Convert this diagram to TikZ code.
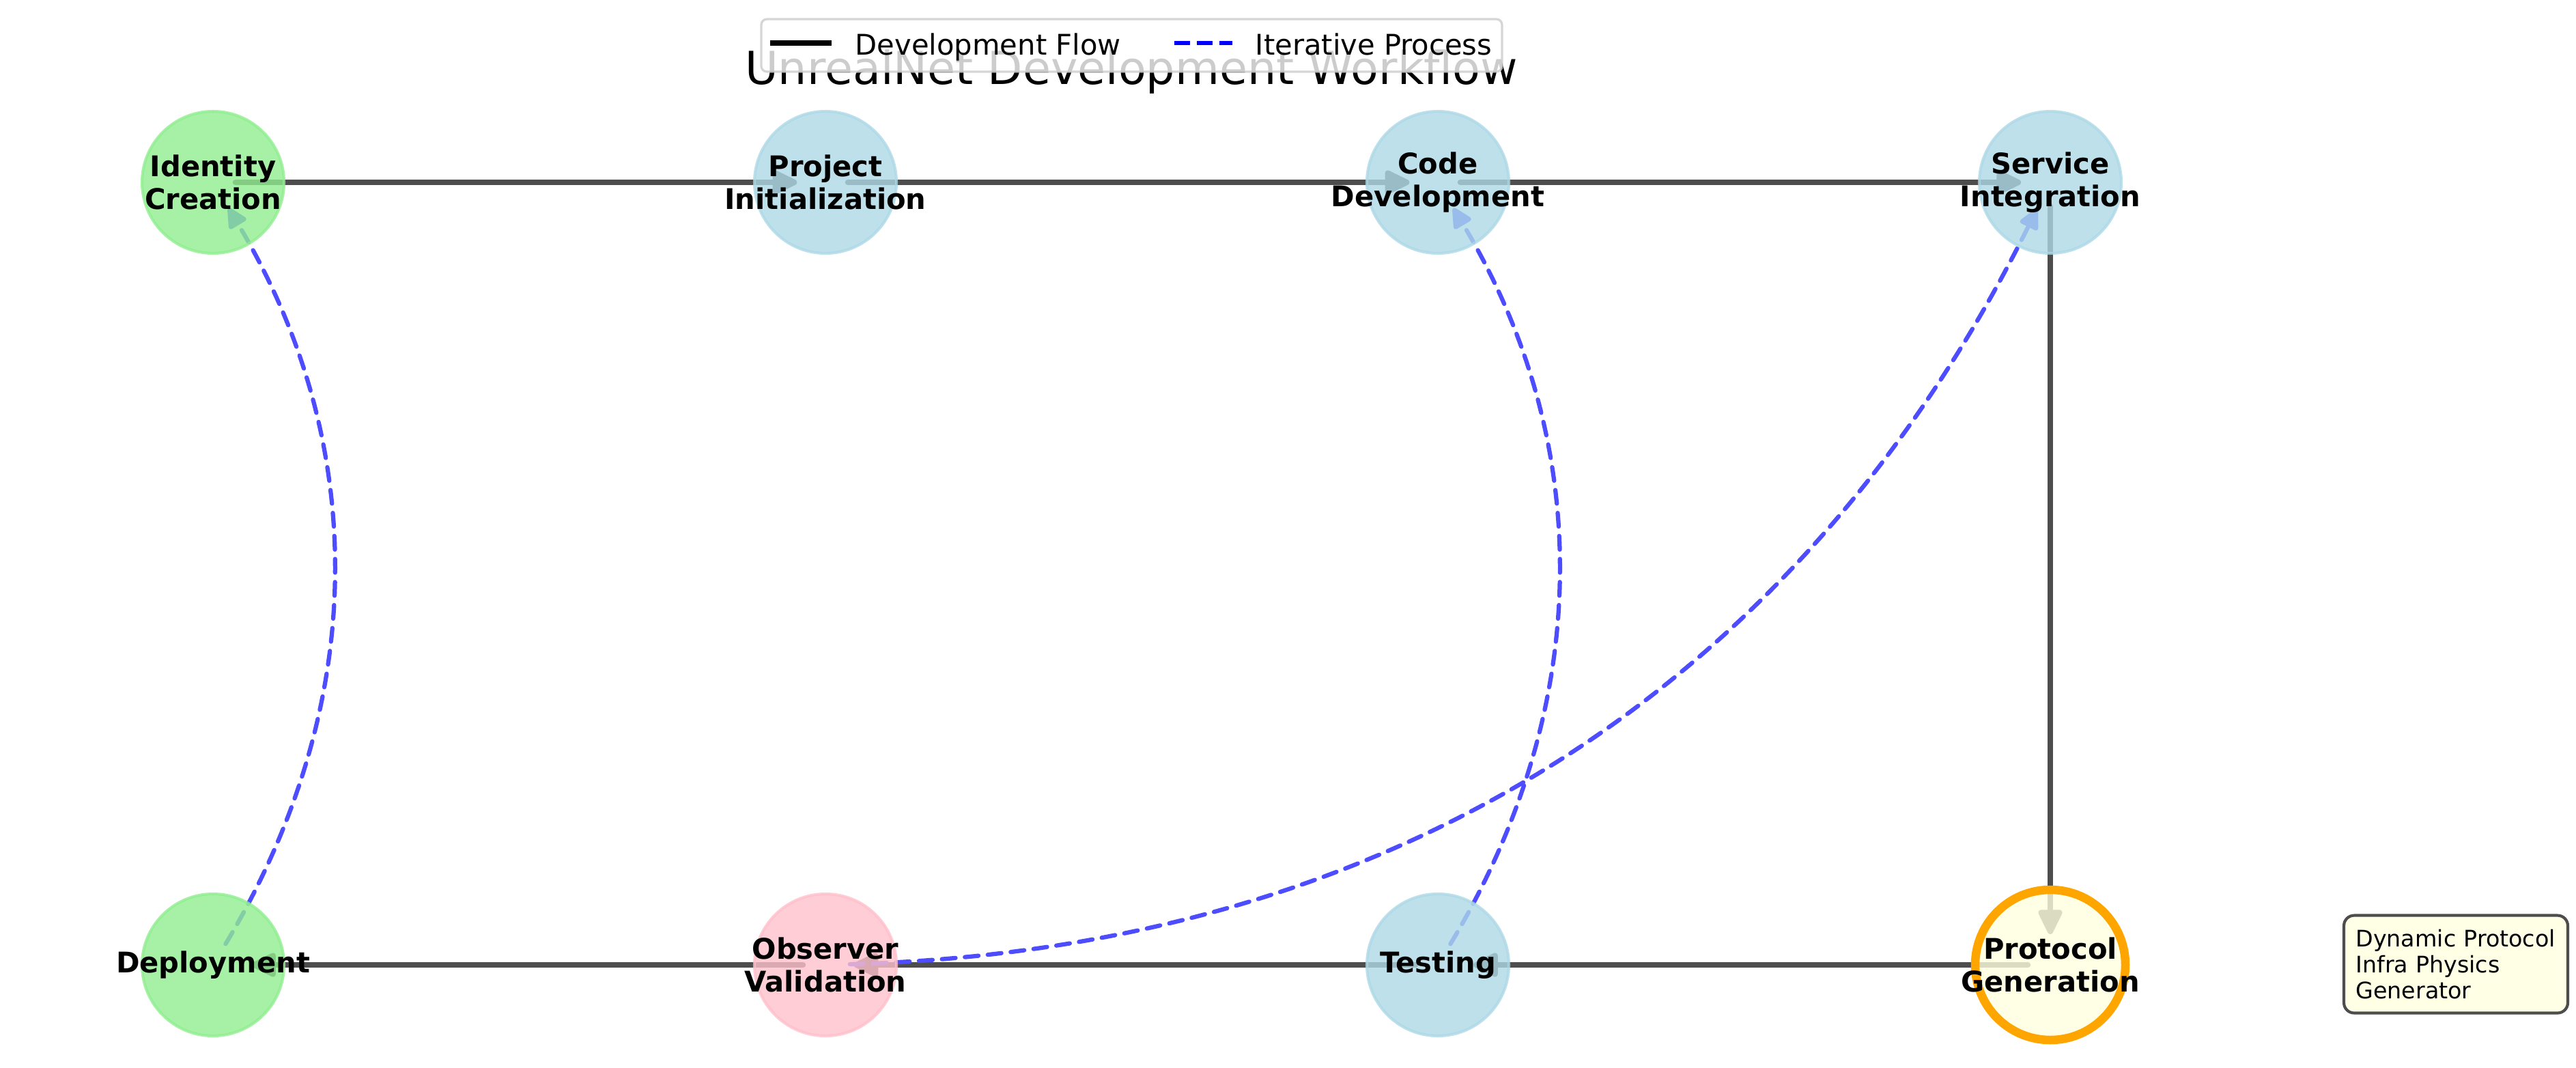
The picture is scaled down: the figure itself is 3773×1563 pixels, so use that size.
\documentclass[tikz,border=0pt]{standalone}
\usepackage{fontspec}
\setmainfont{DejaVu Sans}
\usetikzlibrary{arrows.meta,calc}
\pgfdeclarelayer{edges}
\pgfsetlayers{edges,main}
\definecolor{ngreen}{HTML}{90EE90}
\definecolor{nblue}{HTML}{ADD8E6}
\definecolor{npink}{HTML}{FFC0CB}
\definecolor{nyellow}{HTML}{FFFFE0}
\definecolor{norange}{HTML}{FFA500}
\definecolor{flowgray}{HTML}{4D4D4D}
\definecolor{iterblue}{HTML}{4D4DFF}
\definecolor{legendedge}{HTML}{CCCCCC}
\definecolor{boxfill}{HTML}{FFFFE6}
\begin{document}
\begin{tikzpicture}[x=0.24pt,y=-0.24pt,
  stage/.style={circle, minimum size=49.9pt, inner sep=0pt, line width=1pt,
    fill opacity=0.8, draw opacity=0.8},
  stagetext/.style={align=center, inner sep=0pt, text opacity=1,
    font=\fontsize{10}{11.6}\selectfont\bfseries},
  flow/.style={draw=flowgray, line width=2pt, line cap=round,
    -{Triangle[length=10pt,width=9pt,round]}},
  iter/.style={draw=iterblue, line width=1.5pt, line cap=round,
    dash pattern=on 4.8pt off 3.3pt, shorten <=8.6pt, shorten >=10.5pt,
    -{Triangle[length=8pt,width=7.5pt,round]}},
  legtext/.style={anchor=base west, inner sep=0pt, font=\fontsize{10}{12}\selectfont}
]
\useasboundingbox (0,0) rectangle (3773,1563);

% title
\node[anchor=base, inner sep=0pt, font=\fontsize{16}{19}\selectfont] (title) at (1657,123) {UnrealNet Development Workflow};

% stages
\node[stage, fill=ngreen, draw=ngreen] (idc) at (312,267) {};
\node[stage, fill=nblue, draw=nblue] (pin) at (1209,267) {};
\node[stage, fill=nblue, draw=nblue] (cod) at (2106,267) {};
\node[stage, fill=nblue, draw=nblue] (svc) at (3003,267) {};
\node[stage, fill=nyellow, draw=norange, draw opacity=1, line width=3pt, minimum size=52.8pt] (pro) at (3003,1413) {};
\node[stage, fill=nblue, draw=nblue] (tst) at (2106,1413) {};
\node[stage, fill=npink, draw=npink] (obs) at (1209,1413) {};
\node[stage, fill=ngreen, draw=ngreen] (dep) at (312,1413) {};

\node[stagetext] (idc-t) at (idc.center) {Identity\\Creation};
\node[stagetext] (pin-t) at (pin.center) {Project\\Initialization};
\node[stagetext] (cod-t) at (cod.center) {Code\\Development};
\node[stagetext] (svc-t) at (svc.center) {Service\\Integration};
\node[stagetext] (pro-t) at (pro.center) {Protocol\\Generation};
\node[stagetext] (tst-t) at (tst.center) {Testing};
\node[stagetext] (obs-t) at (obs.center) {Observer\\Validation};
\node[stagetext] (dep-t) at (dep.center) {Deployment};

% edges beneath the stages
\begin{pgfonlayer}{edges}
\draw[flow, shorten <=7.9pt, shorten >=10pt] (idc.center) -- (pin.center);
\draw[flow, shorten <=7.9pt, shorten >=10pt] (pin.center) -- (cod.center);
\draw[flow, shorten <=7.9pt, shorten >=10.3pt] (cod.center) -- (svc.center);
\draw[flow, shorten <=8.4pt, shorten >=10.8pt] (svc.center) -- (pro.center);
\draw[flow, shorten <=7.9pt, shorten >=12.5pt] (pro.center) -- (tst.center);
\draw[flow, shorten <=7.9pt, shorten >=10pt] (tst.center) -- (obs.center);
\draw[flow, shorten <=7.9pt, shorten >=13.5pt] (obs.center) -- (dep.center);

\coordinate (ca) at ($(dep.center)!0.5!(idc.center)!0.6!-90:(idc.center)$);
\draw[iter] (dep.center) .. controls ($(dep.center)!0.6667!(ca)$) and ($(idc.center)!0.6667!(ca)$) .. (idc.center);
\coordinate (cb) at ($(tst.center)!0.5!(cod.center)!0.6!-90:(cod.center)$);
\draw[iter] (tst.center) .. controls ($(tst.center)!0.6667!(cb)$) and ($(cod.center)!0.6667!(cb)$) .. (cod.center);
\coordinate (cc) at ($(obs.center)!0.5!(svc.center)!0.6!-90:(svc.center)$);
\draw[iter] (obs.center) .. controls ($(obs.center)!0.6667!(cc)$) and ($(svc.center)!0.6667!(cc)$) .. (svc.center);
\end{pgfonlayer}

% legend
\draw[fill=white, fill opacity=0.8, draw=legendedge, draw opacity=0.8, line width=0.8pt, rounded corners=2pt]
  (1115,28) rectangle (2200,105);
\draw[black, line width=2pt] (1128,63) -- (1218,63);
\node[legtext] (leg1) at (1252,80) {Development Flow};
\draw[blue, line width=1.6pt, dash pattern=on 5.55pt off 2.4pt] (1720,63) -- (1805,63);
\node[legtext] (leg2) at (1838,80) {Iterative Process};

% annotation box
\node[draw=flowgray, fill=boxfill, line width=1pt, rounded corners=3.6pt,
  minimum width=78.7pt, minimum height=34.3pt, inner sep=0pt,
  text width=70.4pt, align=left, font=\fontsize{8}{9.1}\selectfont] (note) at (3597,1412)
  {Dynamic Protocol\\Infra Physics\\Generator};
\end{tikzpicture}
\end{document}
